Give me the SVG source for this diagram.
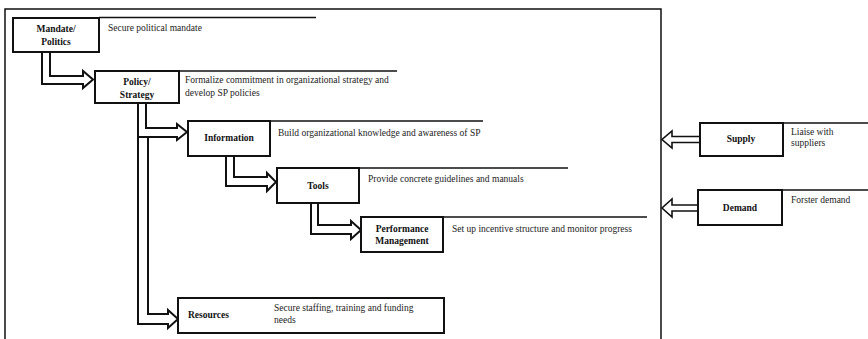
<svg xmlns="http://www.w3.org/2000/svg" width="868" height="339" viewBox="0 0 868 339">
  <style>
    .box { fill: #fff; stroke: #111; stroke-width: 2; }
    .rule { fill: none; stroke: #111; stroke-width: 1.5; }
    .arrow { fill: #fff; stroke: #111; stroke-width: 2; stroke-linejoin: miter; }
    .sarrow { fill: #fff; stroke: #111; stroke-width: 1.6; stroke-linejoin: miter; }
    .lbl { font-family: "Liberation Serif", "Times New Roman", serif; font-size: 9.5px; font-weight: bold; fill: #111; text-anchor: middle; }
    .txt { font-family: "Liberation Serif", "Times New Roman", serif; font-size: 9.5px; fill: #222; }
  </style>
  <rect width="868" height="339" fill="#fff"/>

  <!-- frame around the internal building blocks -->
  <path d="M5,339 V9 H661 V339" class="rule" stroke-width="2"/>

  <!-- rules extending from the top edge of each box -->
  <g id="rules">
    <line x1="99" y1="17.5" x2="316" y2="17.5" class="rule"/>
    <line x1="179" y1="71" x2="397" y2="71" class="rule"/>
    <line x1="270" y1="121" x2="483" y2="121" class="rule"/>
    <line x1="359" y1="168" x2="568" y2="168" class="rule"/>
    <line x1="443" y1="217" x2="647" y2="217" class="rule"/>
    <line x1="783" y1="123" x2="868" y2="123" class="rule"/>
    <line x1="782" y1="190" x2="868" y2="190" class="rule"/>
  </g>

  <!-- hollow block arrows -->
  <g id="connectors">
    <path class="arrow" d="M42,52 V84 H83 V88 L93,79.5 L83,71 V76 H50 V52"/>
    <path class="arrow" d="M148,138 V314 H168 V310 L178,319 L168,328 V324 H138 V138"/>
    <path class="arrow" d="M138,103 V137 H177 V140 L187,132 L177,124 V128 H146 V103"/>
    <path class="arrow" d="M226,156 V186 H267 V191 L276,182 L267,173 V177 H234 V156"/>
    <path class="arrow" d="M311,203 V234 H351 V239 L361,230 L351,221 V225 H318 V203"/>
    <path class="sarrow" d="M700,136.5 H672 V131 L662,139.5 L672,148 V142.5 H700"/>
    <path class="sarrow" d="M698,205 H672 V199 L662,208 L672,217 V211 H698"/>
  </g>

  <g id="mandate">
    <rect class="box" x="13" y="18" width="86" height="34"/>
    <text class="lbl" x="56" y="32">Mandate/</text>
    <text class="lbl" x="56" y="45">Politics</text>
    <text class="txt" x="108" y="31">Secure political mandate</text>
  </g>

  <g id="policy">
    <rect class="box" x="95" y="71" width="84" height="32"/>
    <text class="lbl" x="137" y="85">Policy/</text>
    <text class="lbl" x="137" y="98">Strategy</text>
    <text class="txt" x="185" y="83">Formalize commitment in organizational strategy and</text>
    <text class="txt" x="185" y="96">develop SP policies</text>
  </g>

  <g id="information">
    <rect class="box" x="188" y="121" width="82" height="35"/>
    <text class="lbl" x="229" y="141">Information</text>
    <text class="txt" x="278" y="136">Build organizational knowledge and awareness of SP</text>
  </g>

  <g id="tools">
    <rect class="box" x="277" y="168" width="82" height="35"/>
    <text class="lbl" x="318" y="189">Tools</text>
    <text class="txt" x="368" y="182">Provide concrete guidelines and manuals</text>
  </g>

  <g id="performance">
    <rect class="box" x="361" y="217" width="82" height="35"/>
    <text class="lbl" x="402" y="232">Performance</text>
    <text class="lbl" x="402" y="244">Management</text>
    <text class="txt" x="452" y="232">Set up incentive structure and monitor progress</text>
  </g>

  <g id="resources">
    <rect class="box" x="178" y="298" width="266" height="35"/>
    <text class="lbl" x="188" y="318" text-anchor="start" style="text-anchor:start">Resources</text>
    <text class="txt" x="274" y="311">Secure staffing, training and funding</text>
    <text class="txt" x="274" y="323">needs</text>
  </g>

  <g id="supply">
    <rect class="box" x="700" y="123" width="83" height="33"/>
    <text class="lbl" x="741" y="142">Supply</text>
    <text class="txt" x="791" y="135">Liaise with</text>
    <text class="txt" x="791" y="146">suppliers</text>
  </g>

  <g id="demand">
    <rect class="box" x="698" y="190" width="84" height="35"/>
    <text class="lbl" x="740" y="211">Demand</text>
    <text class="txt" x="791" y="203">Forster demand</text>
  </g>
</svg>
